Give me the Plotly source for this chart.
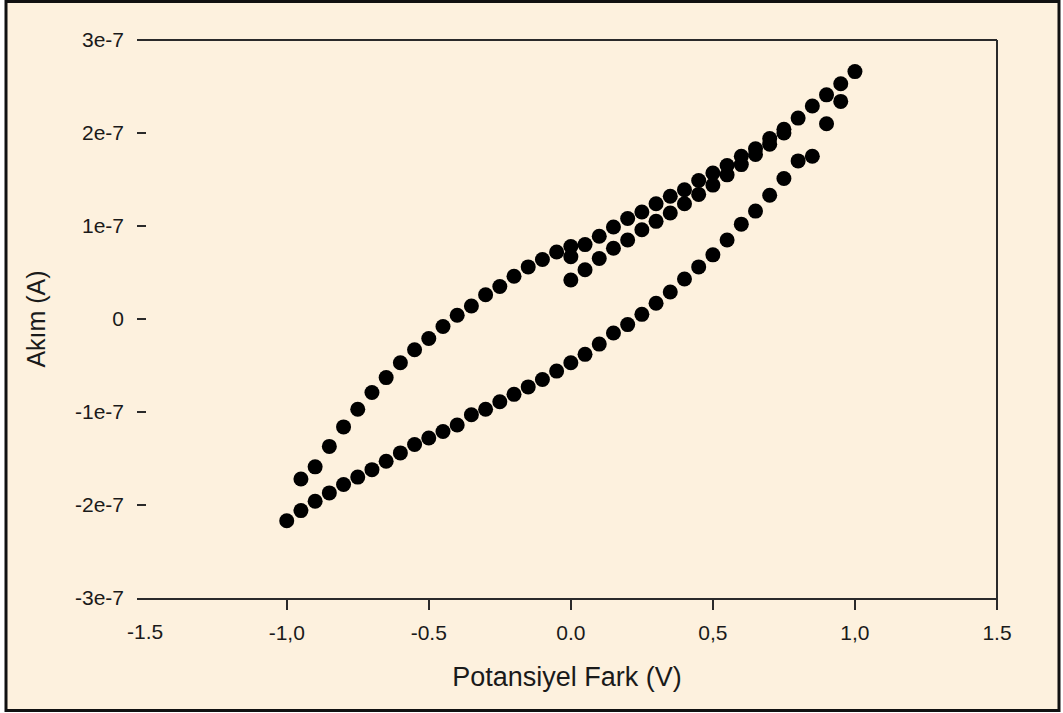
import plotly.graph_objects as go

# ---- data (current in units of 1e-7 A) ----
# initial sweep starting at 0 V (inner line just below the upper curve)
v_initial = [0.0, 0.0, 0.05, 0.10, 0.15, 0.20, 0.25, 0.30, 0.35, 0.40, 0.45,
             0.50, 0.55, 0.60, 0.65, 0.70, 0.75]
i_initial = [0.67, 0.42, 0.53, 0.65, 0.76, 0.85, 0.96, 1.05, 1.14, 1.24, 1.34,
             1.44, 1.55, 1.66, 1.77, 1.88, 2.00]

# reverse sweep from +0.95 V down to -1.0 V (lower curve)
v_reverse = [0.95, 0.90, 0.85, 0.80, 0.75, 0.70, 0.65, 0.60, 0.55, 0.50, 0.45,
             0.40, 0.35, 0.30, 0.25, 0.20, 0.15, 0.10, 0.05, 0.00, -0.05,
             -0.10, -0.15, -0.20, -0.25, -0.30, -0.35, -0.40, -0.45, -0.50,
             -0.55, -0.60, -0.65, -0.70, -0.75, -0.80, -0.85, -0.90, -0.95, -1.00]
i_reverse = [2.34, 2.10, 1.75, 1.70, 1.51, 1.33, 1.16, 1.02, 0.85, 0.69, 0.56,
             0.43, 0.29, 0.17, 0.05, -0.06, -0.15, -0.27, -0.38, -0.47, -0.56,
             -0.65, -0.73, -0.81, -0.89, -0.97, -1.03, -1.14, -1.21, -1.28,
             -1.35, -1.44, -1.53, -1.62, -1.70, -1.78, -1.87, -1.96, -2.06, -2.17]

# forward sweep from -0.95 V up to +1.0 V (upper curve)
v_forward = [-0.95, -0.90, -0.85, -0.80, -0.75, -0.70, -0.65, -0.60, -0.55,
             -0.50, -0.45, -0.40, -0.35, -0.30, -0.25, -0.20, -0.15, -0.10,
             -0.05, 0.00, 0.05, 0.10, 0.15, 0.20, 0.25, 0.30, 0.35, 0.40, 0.45,
             0.50, 0.55, 0.60, 0.65, 0.70, 0.75, 0.80, 0.85, 0.90, 0.95, 1.00]
i_forward = [-1.72, -1.59, -1.37, -1.16, -0.97, -0.79, -0.63, -0.47, -0.33,
             -0.21, -0.08, 0.04, 0.14, 0.26, 0.35, 0.46, 0.56, 0.64,
             0.72, 0.78, 0.80, 0.89, 0.99, 1.08, 1.15, 1.24, 1.32, 1.39, 1.49,
             1.57, 1.65, 1.75, 1.83, 1.94, 2.04, 2.16, 2.29, 2.41, 2.53, 2.66]

x_tickvals = [-1.0, -0.5, 0.0, 0.5, 1.0, 1.5]
x_ticktext = ["-1,0", "-0.5", "0.0", "0,5", "1,0", "1.5"]
y_tickvals = [-3e-7, -2e-7, -1e-7, 0, 1e-7, 2e-7, 3e-7]
y_ticktext = ["-3e-7", "-2e-7", "-1e-7", "0", "1e-7", "2e-7", "3e-7"]

SCALE = 1e-7
CREAM = "#FDF1DE"
AXC = "#2a2a2a"
FONT = "Liberation Sans, Arial, sans-serif"

fig = go.Figure()
for vs, cs in [(v_initial, i_initial), (v_reverse, i_reverse), (v_forward, i_forward)]:
    fig.add_trace(go.Scatter(
        x=vs, y=[c * SCALE for c in cs], mode="markers",
        marker=dict(symbol="circle", size=15, color="black", line=dict(width=0)),
        hoverinfo="x+y"))

# plot area: x 137..997, y 40..598
L, R, T, B = 137, 997, 40, 598
W, H = 1063, 713
pw, ph = R - L, B - T

def px(p):
    return (p - L) / pw

def py(q):
    return (B - q) / ph

shapes = [
    # outer frame with cream fill
    dict(type="rect", xref="paper", yref="paper", layer="below",
         x0=px(6), x1=px(1059), y0=py(710.5), y1=py(1.5),
         line=dict(color="#111111", width=3), fillcolor=CREAM),
    # top line of the plot box
    dict(type="line", xref="paper", yref="paper", x0=0, x1=1, y0=1, y1=1,
         line=dict(color=AXC, width=2)),
    # right line of the plot box (extends to the tick below)
    dict(type="line", xref="paper", yref="paper", x0=1, x1=1, y0=py(608), y1=1,
         line=dict(color=AXC, width=2)),
]

fig.update_layout(
    width=W, height=H,
    margin=dict(l=L, r=W - R, t=T, b=H - B, autoexpand=False),
    paper_bgcolor="white", plot_bgcolor=CREAM,
    showlegend=False,
    font=dict(family=FONT, color="#1a1a1a"),
    shapes=shapes,
    xaxis=dict(
        range=[-1.527, 1.5], tickmode="array", tickvals=x_tickvals, ticktext=x_ticktext,
        ticks="outside", ticklen=10, tickwidth=2, tickcolor=AXC,
        showline=True, linecolor=AXC, linewidth=2, mirror=False,
        showgrid=False, zeroline=False, tickfont=dict(size=21, family=FONT),
        ticklabelstandoff=5, automargin=False,
        title=dict(text="Potansiyel Fark (V)", font=dict(size=27, family=FONT), standoff=24),
    ),
    yaxis=dict(
        range=[-3e-7, 3e-7], tickmode="array", tickvals=y_tickvals, ticktext=y_ticktext,
        ticks="inside", ticklen=9, tickwidth=2, tickcolor=AXC,
        showline=False, showgrid=False, zeroline=False,
        tickfont=dict(size=21, family=FONT), ticklabelstandoff=12, automargin=False,
        title=dict(text="Akım (A)", font=dict(size=25, family=FONT), standoff=22),
    ),
    annotations=[
        dict(text="-1.5", x=-1.5, xref="x", y=py(631), yref="paper",
             showarrow=False, font=dict(size=21, family=FONT, color="#1a1a1a"),
             xanchor="center", yanchor="middle"),
    ],
)

fig.write_html("out.html")
